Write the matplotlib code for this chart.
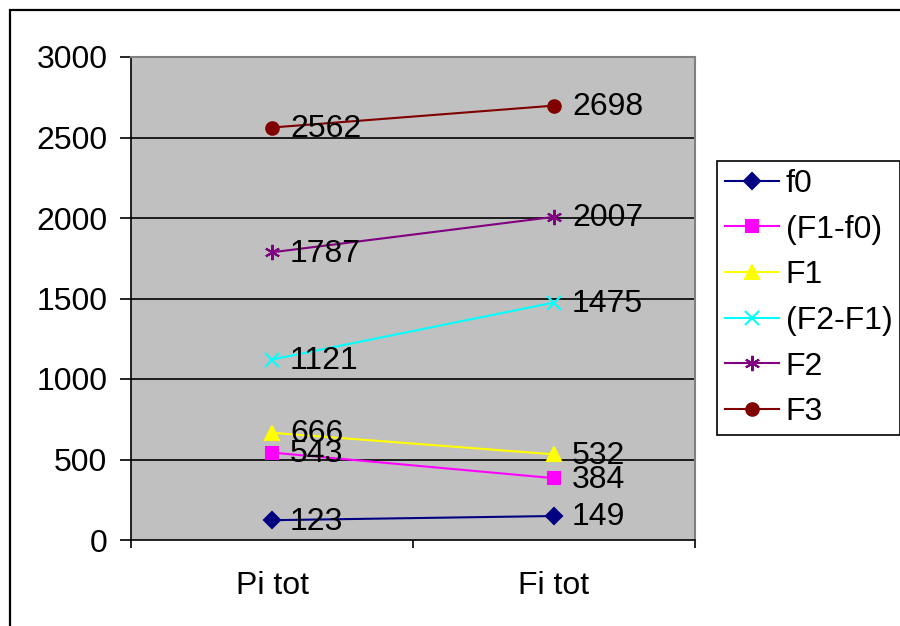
import matplotlib.pyplot as plt
import matplotlib.patches as patches
import numpy as np

plt.rcParams['font.family'] = ['Liberation Sans', 'DejaVu Sans']
font_size = 23

categories = ['Pi tot', 'Fi tot']
series_names = ['f0', '(F1-f0)', 'F1', '(F2-F1)', 'F2', 'F3']
f0 = [123, 149]
f1_minus_f0 = [543, 384]
f1 = [666, 532]
f2_minus_f1 = [1121, 1475]
f2 = [1787, 2007]
f3 = [2562, 2698]
yticks = [0, 500, 1000, 1500, 2000, 2500, 3000]

series_values = [f0, f1_minus_f0, f1, f2_minus_f1, f2, f3]
colors = ['#000080', '#FF00FF', '#FFFF00', '#00FFFF', '#800080', '#800000']
markers = ['D', 's', '^', 'x', (6, 2, 0), 'o']
msizes = [8, 8, 10, 10, 11, 9]

W, H = 900, 626
fig = plt.figure(figsize=(W / 100, H / 100), dpi=100)

# outer chart frame (runs off the right and bottom edges)
fig.patches.append(patches.Rectangle((10 / W, -0.1), 1.2, (H - 10) / H + 0.1,
                                     transform=fig.transFigure, fill=False,
                                     edgecolor='black', lw=1.6, zorder=0))

ax = fig.add_axes([131 / W, (H - 540) / H, 564 / W, 483 / H])
ax.set_facecolor('#C0C0C0')
x = np.arange(len(categories))

for vals, name, c, m, ms in zip(series_values, series_names, colors, markers, msizes):
    ax.plot(x, vals, color=c, lw=1.5, marker=m, markersize=ms,
            markeredgewidth=1.5, markerfacecolor=c, markeredgecolor=c,
            label=name, zorder=3, clip_on=False)
    # value labels to the right of each point
    for xi, v in zip(x, vals):
        ax.annotate(str(v), (xi, v), xytext=(13, -1), textcoords='offset points',
                    ha='left', va='center', fontsize=font_size, color='black',
                    zorder=4)

ax.set_xlim(-0.5, 1.5)
ax.set_ylim(0, 3000)
ax.set_yticks(yticks)
ax.set_yticklabels([str(t) for t in yticks], fontsize=font_size)
for t in yticks[1:-1]:
    ax.axhline(t, color='black', lw=1.2, zorder=1)

ax.set_xticks(x)
ax.set_xticklabels(categories, fontsize=font_size)
ax.set_xticks([-0.5, 0.5, 1.5], minor=True)
ax.tick_params(axis='x', which='major', length=0, pad=22)
ax.tick_params(axis='x', which='minor', length=6, width=1.2, direction='out')
ax.tick_params(axis='y', length=8, width=1.2, direction='out', pad=9)

ax.spines['left'].set_color('black')
ax.spines['bottom'].set_color('black')
ax.spines['left'].set_linewidth(1.2)
ax.spines['bottom'].set_linewidth(1.2)
ax.spines['top'].set_color('#808080')
ax.spines['right'].set_color('#808080')
ax.spines['top'].set_linewidth(1.5)
ax.spines['right'].set_linewidth(1.5)

leg = fig.legend(loc='upper left', bbox_to_anchor=(717 / W, (H - 161) / H),
                 fontsize=font_size, frameon=True, fancybox=False,
                 edgecolor='black', framealpha=1, borderpad=0.25,
                 handlelength=1.7, handletextpad=0.2, labelspacing=0.49,
                 borderaxespad=0)
leg.get_frame().set_linewidth(1.2)

plt.savefig('out.png', dpi=100)
